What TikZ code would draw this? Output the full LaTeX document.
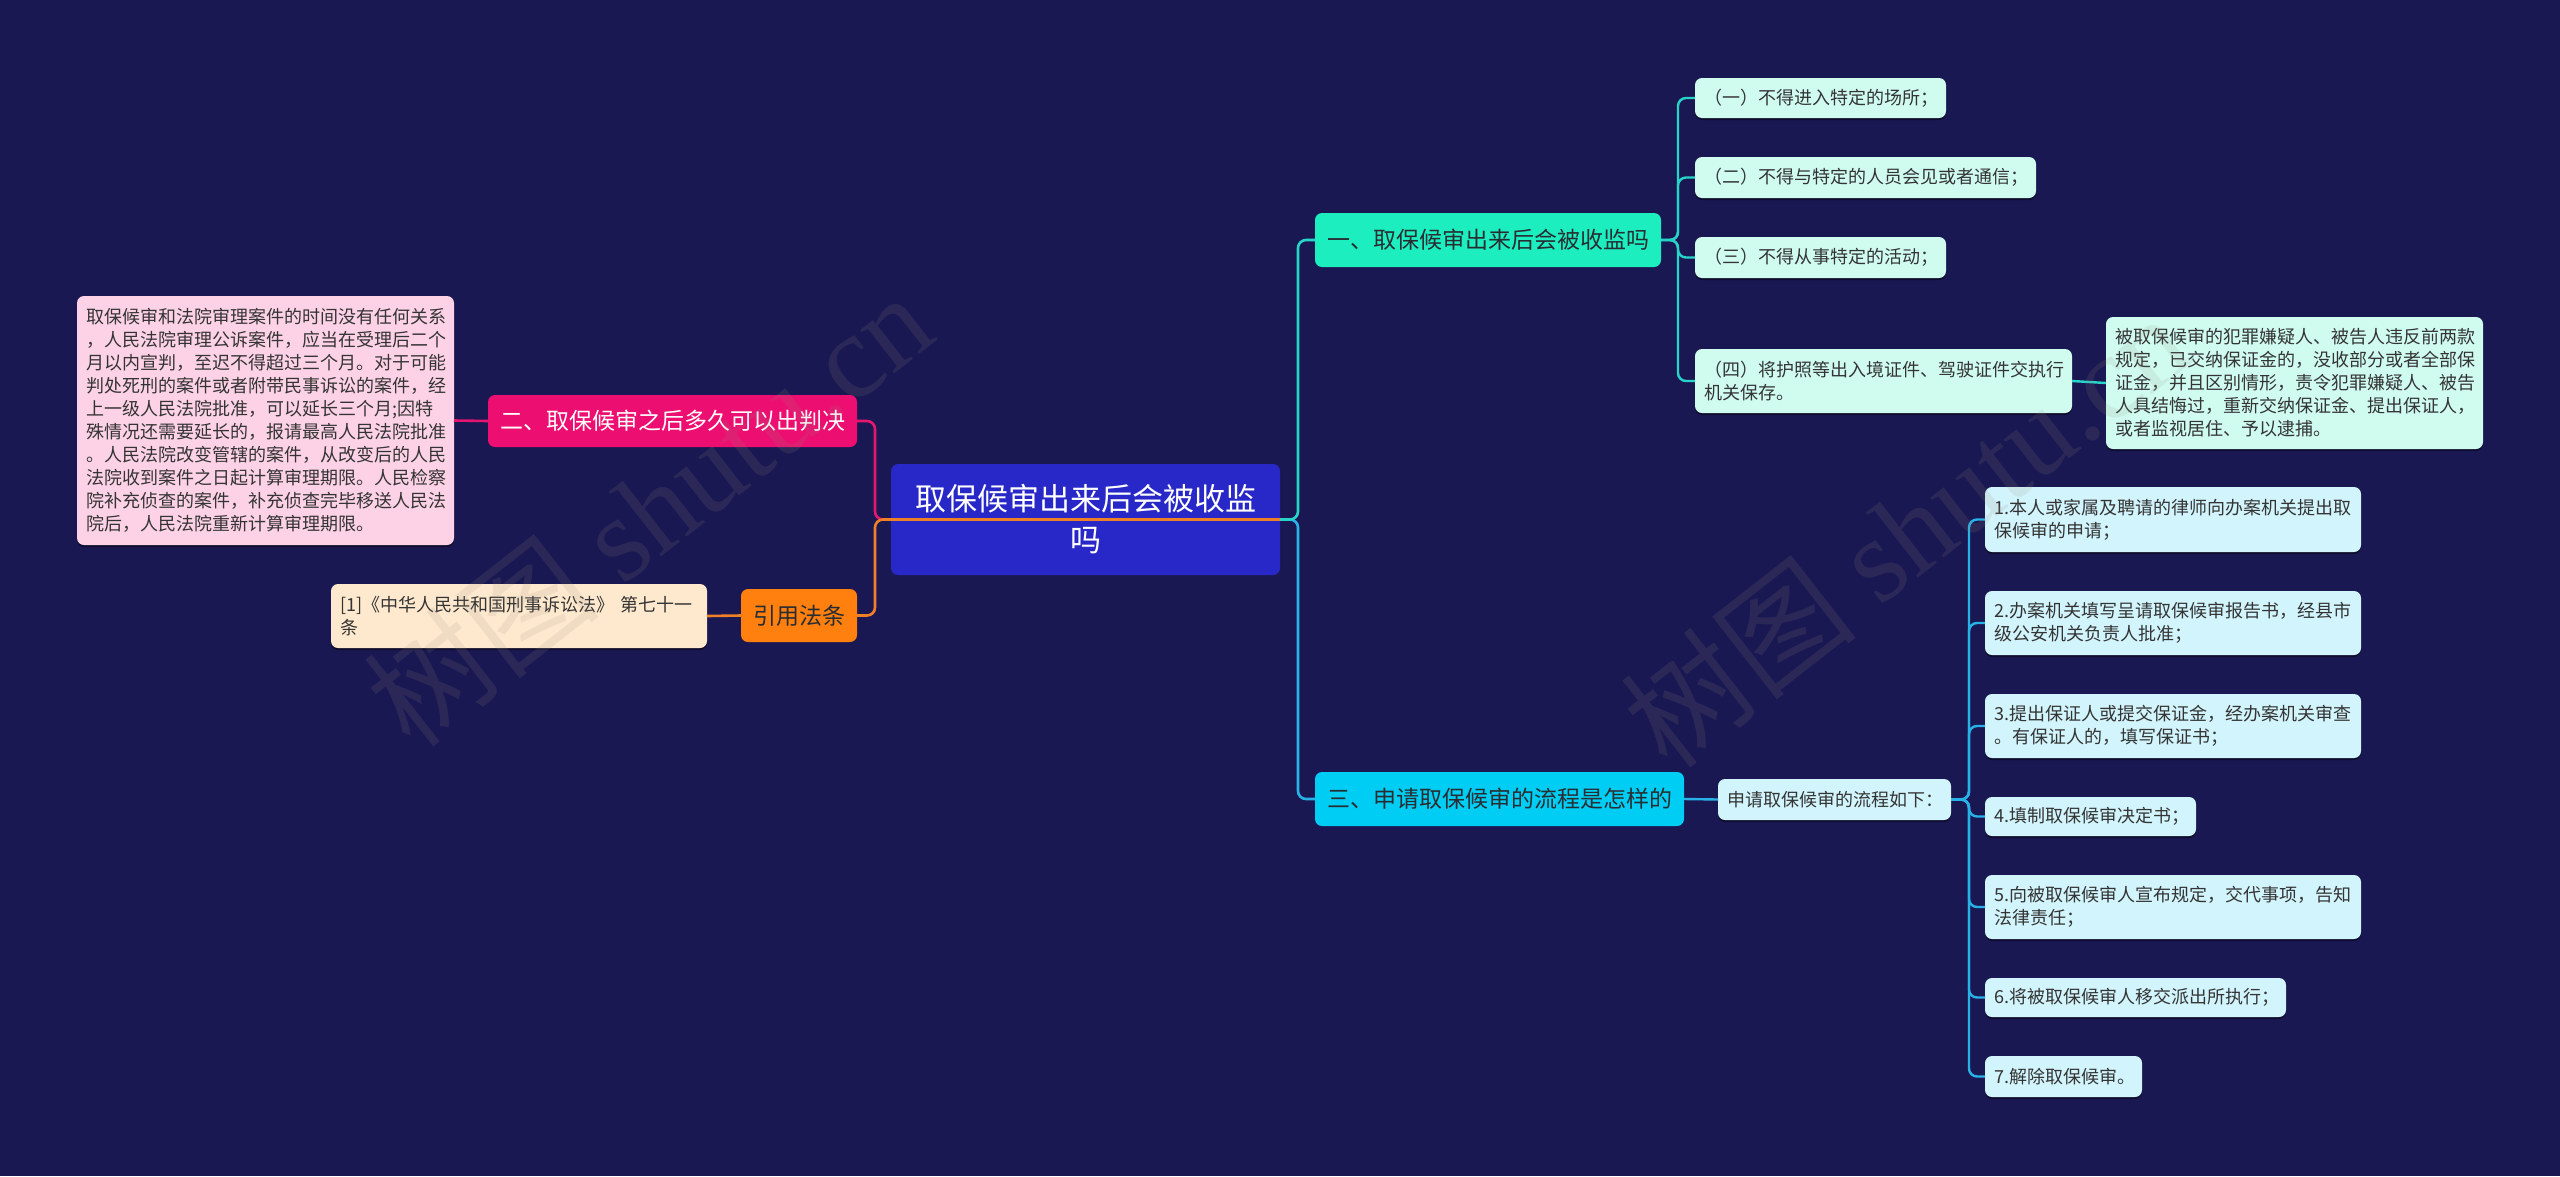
\documentclass[tikz,border=0pt]{standalone}
\usepackage{fontspec}
\setmainfont{Noto Sans CJK SC}
\newfontfamily\wmserif{Liberation Serif}
\usetikzlibrary{shadows}
\definecolor{bg}{RGB}{26,24,82}
\definecolor{rootfill}{RGB}{40,40,200}
\definecolor{onefill}{RGB}{28,238,192}
\definecolor{threefill}{RGB}{0,205,243}
\definecolor{twofill}{RGB}{236,14,112}
\definecolor{reffill}{RGB}{255,127,15}
\definecolor{pinkleaf}{RGB}{253,210,230}
\definecolor{peachleaf}{RGB}{255,233,206}
\definecolor{mintleaf}{RGB}{208,252,240}
\definecolor{cyanleaf}{RGB}{210,244,252}
\definecolor{darktxt}{RGB}{40,45,50}
\definecolor{leaftxt}{RGB}{52,52,52}
\definecolor{lpink}{RGB}{228,22,112}
\definecolor{lorange}{RGB}{240,128,40}
\definecolor{lteal}{RGB}{38,212,200}
\definecolor{lblue}{RGB}{40,178,232}
\definecolor{wmcol}{RGB}{150,140,130}
\begin{document}
\begin{tikzpicture}[x=1pt,y=-1pt,
  base/.style={rounded corners=7pt, inner ysep=0pt, outer sep=0pt},
  mainbox/.style={base, inner xsep=10pt, font=\fontsize{23}{30}\selectfont, text=darktxt, align=center},
  leafbox/.style={base, inner xsep=9pt, font=\fontsize{18}{23}\selectfont, text=leaftxt, align=left,
    drop shadow={shadow xshift=0pt, shadow yshift=-2pt, opacity=0.45, fill=black}},
  conn/.style={line width=2.6pt, rounded corners=8pt},
  wm/.style={text=wmcol, opacity=0.14, font=\fontsize{120}{120}\selectfont, inner sep=0pt}
]
\useasboundingbox (0,0) rectangle (2560,1176);
\fill[bg] (0,0) rectangle (2560,1176);

% trunk coordinates
\coordinate (tl) at (875,0);
\coordinate (tr) at (1298,0);
\coordinate (t1) at (1678,0);
\coordinate (t3) at (1969,0);

% root
\node[base, fill=rootfill, text=white, font=\fontsize{31}{41}\selectfont, align=center,
      minimum width=389pt, minimum height=111pt, text width=370pt, inner xsep=0pt] (root) at (1085.5,519.5)
  {取保候审出来后会被收监\\吗};

% left branch
\node[mainbox, fill=twofill, text=white, minimum width=369pt, minimum height=52pt] (n2) at (672.5,421) {二、取保候审之后多久可以出判决};
\node[leafbox, fill=pinkleaf, minimum width=377pt, minimum height=249pt, text width=359pt] (p1) at (265.5,420.5)
  {取保候审和法院审理案件的时间没有任何关系\\，人民法院审理公诉案件，应当在受理后二个\\月以内宣判，至迟不得超过三个月。对于可能\\判处死刑的案件或者附带民事诉讼的案件，经\\上一级人民法院批准，可以延长三个月;因特\\殊情况还需要延长的，报请最高人民法院批准\\。人民法院改变管辖的案件，从改变后的人民\\法院收到案件之日起计算审理期限。人民检察\\院补充侦查的案件，补充侦查完毕移送人民法\\院后，人民法院重新计算审理期限。};
\node[mainbox, fill=reffill, minimum width=116pt, minimum height=53pt] (nr) at (799,615.5) {引用法条};
\node[leafbox, fill=peachleaf, minimum width=376pt, minimum height=64pt, text width=358pt] (r1) at (519,616)
  {[1]《中华人民共和国刑事诉讼法》~第七十一\\条};

% right branch 1
\node[mainbox, fill=onefill, minimum width=346pt, minimum height=54pt] (n1) at (1488,240) {一、取保候审出来后会被收监吗};
\node[leafbox, fill=mintleaf, minimum width=251pt, minimum height=40pt, text width=233pt] (a1) at (1820.5,98) {（一）不得进入特定的场所；};
\node[leafbox, fill=mintleaf, minimum width=341pt, minimum height=41pt, text width=323pt] (a2) at (1865.5,177.5) {（二）不得与特定的人员会见或者通信；};
\node[leafbox, fill=mintleaf, minimum width=251pt, minimum height=41pt, text width=233pt] (a3) at (1820.5,257.5) {（三）不得从事特定的活动；};
\node[leafbox, fill=mintleaf, minimum width=377pt, minimum height=64pt, text width=359pt] (a4) at (1883.5,381) {（四）将护照等出入境证件、驾驶证件交执行\\机关保存。};
\node[leafbox, fill=mintleaf, minimum width=377pt, minimum height=132pt, text width=359pt] (a5) at (2294.5,383)
  {被取保候审的犯罪嫌疑人、被告人违反前两款\\规定，已交纳保证金的，没收部分或者全部保\\证金，并且区别情形，责令犯罪嫌疑人、被告\\人具结悔过，重新交纳保证金、提出保证人，\\或者监视居住、予以逮捕。};

% right branch 3
\node[mainbox, fill=threefill, minimum width=369pt, minimum height=54pt] (n3) at (1499.5,799) {三、申请取保候审的流程是怎样的};
\node[leafbox, fill=cyanleaf, minimum width=233pt, minimum height=41pt, text width=215pt] (b0) at (1834.5,799.5) {申请取保候审的流程如下：};
\node[leafbox, fill=cyanleaf, minimum width=376pt, minimum height=65pt, text width=358pt] (b1) at (2173,519.5) {1.本人或家属及聘请的律师向办案机关提出取\\保候审的申请；};
\node[leafbox, fill=cyanleaf, minimum width=376pt, minimum height=64pt, text width=358pt] (b2) at (2173,623) {2.办案机关填写呈请取保候审报告书，经县市\\级公安机关负责人批准；};
\node[leafbox, fill=cyanleaf, minimum width=376pt, minimum height=64pt, text width=358pt] (b3) at (2173,726) {3.提出保证人或提交保证金，经办案机关审查\\。有保证人的，填写保证书；};
\node[leafbox, fill=cyanleaf, minimum width=211pt, minimum height=39pt, text width=193pt] (b4) at (2090.5,816.5) {4.填制取保候审决定书；};
\node[leafbox, fill=cyanleaf, minimum width=376pt, minimum height=64pt, text width=358pt] (b5) at (2173,907) {5.向被取保候审人宣布规定，交代事项，告知\\法律责任；};
\node[leafbox, fill=cyanleaf, minimum width=301pt, minimum height=39pt, text width=283pt] (b6) at (2135.5,997.5) {6.将被取保候审人移交派出所执行；};
\node[leafbox, fill=cyanleaf, minimum width=157pt, minimum height=41pt, text width=139pt] (b7) at (2063.5,1076.5) {7.解除取保候审。};

% connectors: left
\draw[conn, lpink] (root.east) -- (root.east -| tl) |- (n2.east);
\draw[conn, lorange] (root.east) -- (root.east -| tl) |- (nr.east);
\draw[conn, lpink] (n2.west) -- (p1.east);
\draw[conn, lorange] (nr.west) -- (r1.east);

% connectors: right
\draw[conn, lblue] (root.east) -- (root.east -| tr) |- (n3.west);
\draw[conn, lteal] (root.east) -- (root.east -| tr) |- (n1.west);
\foreach \c in {a1,a2,a3,a4}
  \draw[conn, lteal, line width=2.4pt] (n1.east) -- (n1.east -| t1) |- (\c.west);
\draw[conn, lteal, line width=2.4pt] (a4.east) -- (a5.west);
\draw[conn, lblue, line width=2.4pt] (n3.east) -- (b0.west);
\foreach \c in {b1,b2,b3,b4,b5,b6,b7}
  \draw[conn, lblue, line width=2.4pt] (b0.east) -- (b0.east -| t3) |- (\c.west);

% watermarks
\node[wm, rotate=38] (wm1) at (648,509) {树图~{\wmserif shutu.cn}};
\node[wm, rotate=38] (wm2) at (1905,530) {树图~{\wmserif shutu.cn}};
\end{tikzpicture}
\end{document}
